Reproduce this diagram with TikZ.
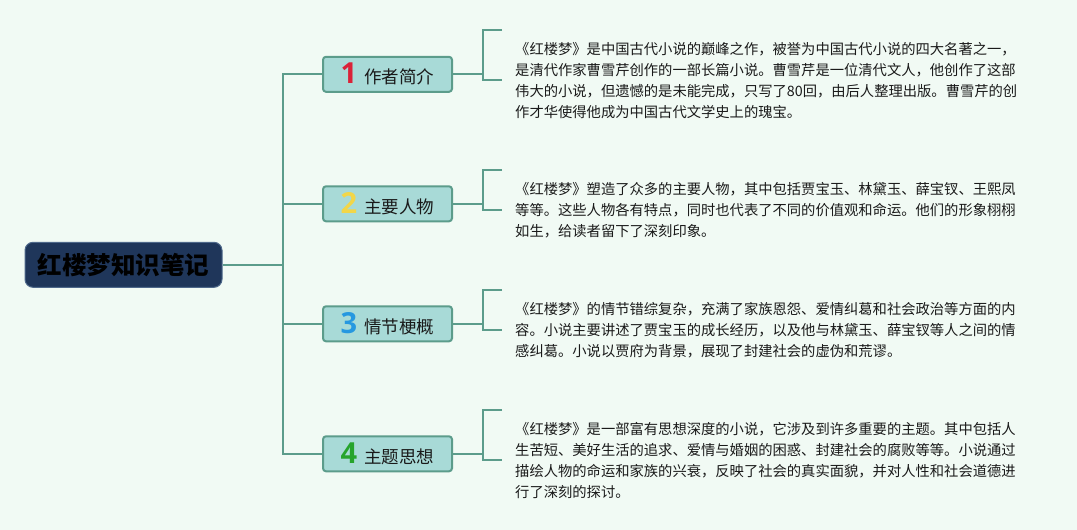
\documentclass[tikz,border=0pt]{standalone}
\usepackage{fontspec}
\setmainfont{Noto Sans CJK SC}
\newfontfamily\numfont{Open Sans}
\usetikzlibrary{positioning}

\definecolor{bgmint}{RGB}{241,250,244}
\definecolor{rootblue}{RGB}{31,54,90}
\definecolor{rootedge}{RGB}{78,104,138}
\definecolor{topicfill}{RGB}{168,218,215}
\definecolor{linegreen}{RGB}{92,156,139}
\definecolor{inkdark}{RGB}{26,26,26}
\definecolor{numred}{RGB}{218,34,56}
\definecolor{numyellow}{RGB}{242,214,72}
\definecolor{numblue}{RGB}{38,152,224}
\definecolor{numgreen}{RGB}{38,164,44}

\tikzset{
	rootbox/.style={draw=rootedge, line width=1pt, fill=rootblue, rounded corners=8pt,
		minimum width=197pt, minimum height=45pt, inner sep=0pt,
		font=\fontsize{24.5}{28}\selectfont\bfseries, text=black},
	topicbox/.style={draw=linegreen, line width=2pt, fill=topicfill, rounded corners=3pt,
		minimum width=129pt, minimum height=35pt, inner sep=0pt,
		font=\fontsize{17.5}{20}\selectfont, text=inkdark},
	infotext/.style={anchor=base west, inner sep=0pt, align=left, text=inkdark,
		font=\fontsize{14.3}{21}\selectfont},
	link/.style={draw=linegreen, line width=2pt}
}

\begin{document}
\begin{tikzpicture}[x=1pt, y=-1pt]
	\def\spinex{283}  % x of the vertical spine
	\def\brx{483}     % x of the brackets
	\def\tickx{502}   % right end of the bracket ticks
	
	\def\infoA{《红楼梦》是中国古代小说的巅峰之作，被誉为中国古代小说的四大名著之一，\\
		是清代作家曹雪芹创作的一部长篇小说。曹雪芹是一位清代文人，他创作了这部\\
		伟大的小说，但遗憾的是未能完成，只写了80回，由后人整理出版。曹雪芹的创\\
		作才华使得他成为中国古代文学史上的瑰宝。}
	\def\infoB{《红楼梦》塑造了众多的主要人物，其中包括贾宝玉、林黛玉、薛宝钗、王熙凤\\
		等等。这些人物各有特点，同时也代表了不同的价值观和命运。他们的形象栩栩\\
		如生，给读者留下了深刻印象。}
	\def\infoC{《红楼梦》的情节错综复杂，充满了家族恩怨、爱情纠葛和社会政治等方面的内\\
		容。小说主要讲述了贾宝玉的成长经历，以及他与林黛玉、薛宝钗等人之间的情\\
		感纠葛。小说以贾府为背景，展现了封建社会的虚伪和荒谬。}
	\def\infoD{《红楼梦》是一部富有思想深度的小说，它涉及到许多重要的主题。其中包括人\\
		生苦短、美好生活的追求、爱情与婚姻的困惑、封建社会的腐败等等。小说通过\\
		描绘人物的命运和家族的兴衰，反映了社会的真实面貌，并对人性和社会道德进\\
		行了深刻的探讨。}
	
	% background
	\useasboundingbox (0,0) rectangle (1077,530);
	\fill[bgmint] (0,0) rectangle (1077,530);
	
	\node[rootbox] (root) at (123.5,264.8) {红楼梦知识笔记};
	
	% topic boxes with their numbers
	\foreach \i/\y/\col/\title in {1/74.3/numred/作者简介, 2/203.8/numyellow/主要人物,
		3/323.8/numblue/情节梗概, 4/453.8/numgreen/主题思想} {
		\node[topicbox] (t\i) at (387.5,\y)
		{{\numfont\bfseries\fontsize{29}{30}\selectfont\color{\col}\i}\hspace{7pt}\title};
		\coordinate (s\i) at (\spinex,\y);
		\coordinate (b\i) at (\brx,\y);
	}
	
	% spine
	\draw[link] (t1.west) -- (s1) -- (s4) -- (t4.west);
	\draw[link] (s2) -- (t2.west);
	\draw[link] (s3) -- (t3.west);
	\draw[link] (root.east) -- (s1 |- root.east);
	
	% brackets and texts (base = last line)
	\foreach \i/\top/\bot/\n/\body in {1/30/80/4/\infoA, 2/170/210/3/\infoB,
		3/290/330/3/\infoC, 4/410/460/4/\infoD} {
		\draw[link] (t\i.east) -- (b\i);
		\draw[link] (\tickx,\top) -- (\brx,\top) -- (\brx,\bot) -- (\tickx,\bot);
		\node[infotext] (d\i) at (515,\top+24.5+\n*21-21) {\body};
	}
\end{tikzpicture}
\end{document}
